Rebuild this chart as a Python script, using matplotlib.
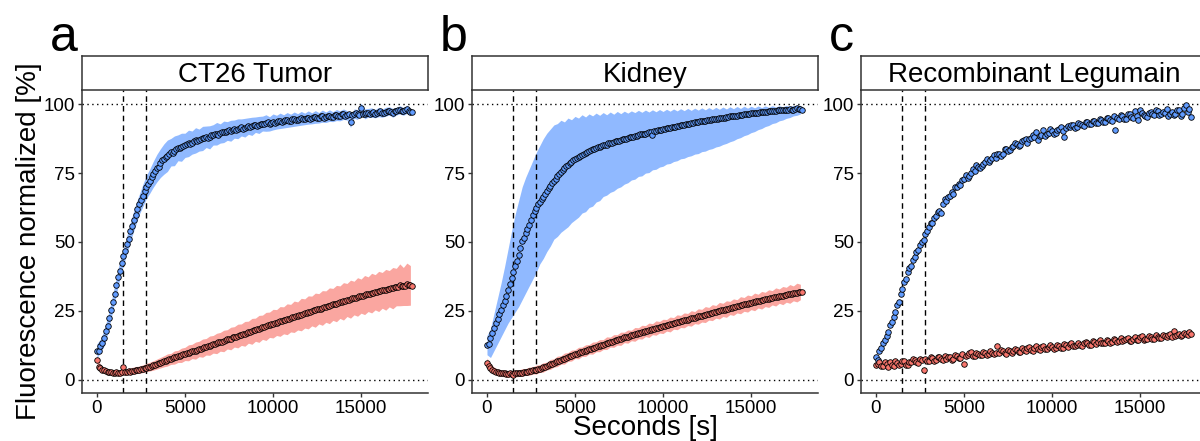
import numpy as np
import matplotlib
matplotlib.use("Agg")
import matplotlib.pyplot as plt

plt.rcParams['font.family'] = ['Liberation Sans', 'DejaVu Sans']

#---------------------------------- data ----------------------------------
# reading times [s]: points every 100 s, ribbons every 200 s
seconds = np.arange(0, 17901, 100)
ribbon_seconds = np.arange(0, 17801, 200)

titles = ["CT26 Tumor", "Kidney", "Recombinant Legumain"]
letters = ["a", "b", "c"]
vlines = [1500, 2800]

tumor_blue = [10.5, 10.2, 12.2, 13.4, 15.0, 17.6, 19.6, 22.5, 25.1, 28.3,
              31.0, 34.4, 37.2, 39.5, 42.3, 44.8, 46.8, 49.3, 51.2, 53.9,
              55.8, 58.1, 59.9, 62.0, 63.6, 65.4, 66.8, 68.6, 69.9, 71.2,
              72.1, 73.6, 74.6, 75.9, 76.8, 77.4, 78.6, 79.6, 80.1, 80.9,
              81.3, 82.1, 82.6, 82.4, 83.1, 83.8, 84.2, 84.0, 84.4, 85.0,
              85.1, 85.6, 85.8, 85.7, 86.1, 86.6, 86.9, 86.5, 87.0, 87.4,
              87.6, 87.9, 88.2, 87.8, 88.0, 88.7, 88.9, 89.1, 89.3, 89.0,
              89.4, 89.9, 90.0, 89.8, 90.3, 90.6, 90.4, 90.8, 91.0, 90.7,
              91.1, 91.4, 91.6, 91.2, 91.5, 91.9, 92.1, 91.8, 92.0, 92.4,
              92.6, 92.3, 92.5, 92.9, 93.0, 92.7, 93.2, 93.4, 92.9, 93.3,
              93.6, 93.2, 93.5, 93.9, 94.0, 93.6, 93.8, 94.2, 94.3, 93.9,
              94.1, 94.5, 94.6, 94.2, 94.4, 94.8, 94.9, 94.5, 94.7, 95.1,
              95.2, 94.8, 94.9, 95.3, 95.4, 95.0, 95.1, 95.6, 95.7, 95.2,
              95.3, 95.8, 95.9, 95.4, 95.5, 96.0, 96.1, 95.6, 95.8, 96.3,
              96.4, 95.9, 96.0, 96.5, 93.5, 96.2, 96.6, 96.8, 96.3, 96.1,
              98.8, 96.4, 96.5, 97.0, 96.9, 96.4, 97.0, 97.3, 96.6, 96.9,
              97.2, 97.5, 96.8, 97.0, 97.3, 97.7, 97.6, 97.1, 96.9, 97.4,
              97.5, 97.9, 98.0, 97.6, 97.4, 98.1, 98.2, 97.7, 97.3, 97.2]
tumor_blue_sd = [2.5, 2.5, 2.8, 3.0, 3.0, 3.0, 3.2, 3.0, 3.2, 3.4,
                 3.5, 3.8, 3.6, 4.0, 4.2, 4.4, 4.7, 5.0, 5.2, 5.5,
                 5.7, 5.0, 5.4, 4.7, 5.1, 4.4, 4.8, 4.2, 4.6, 4.0,
                 4.4, 3.9, 4.2, 3.7, 4.1, 3.5, 3.9, 3.4, 3.8, 3.3,
                 3.6, 3.1, 3.4, 3.0, 3.3, 2.8, 3.1, 2.7, 3.0, 2.6,
                 2.9, 2.5, 2.8, 2.4, 2.7, 2.3, 2.6, 2.2, 2.5, 2.1,
                 2.4, 2.0, 2.3, 1.9, 2.2, 1.9, 2.1, 1.8, 2.0, 1.8,
                 1.9, 1.7, 1.9, 1.7, 1.8, 1.6, 1.8, 1.6, 1.7, 1.5,
                 1.7, 1.5, 1.6, 1.5, 1.6, 1.4, 1.5, 1.4, 1.5, 1.4]
tumor_red = [7.0, 4.5, 4.1, 3.6, 3.3, 3.0, 2.8, 2.9, 2.6, 2.4,
             2.5, 2.7, 2.4, 2.3, 2.6, 4.4, 2.7, 2.6, 3.0, 2.9,
             3.2, 3.1, 3.4, 3.6, 3.6, 3.8, 3.9, 4.1, 4.3, 4.5,
             4.7, 4.9, 5.1, 5.3, 5.6, 5.9, 6.1, 6.4, 6.6, 6.9,
             7.1, 7.3, 7.5, 7.8, 8.0, 8.2, 8.4, 8.7, 8.8, 9.1,
             9.3, 9.6, 9.7, 10.0, 10.2, 10.3, 10.5, 10.9, 11.1, 11.2,
             11.4, 11.7, 11.9, 12.0, 12.3, 12.6, 12.8, 12.9, 13.1, 13.5,
             13.7, 13.8, 14.0, 14.4, 14.6, 14.7, 14.9, 15.3, 15.5, 15.6,
             15.8, 16.1, 16.3, 16.4, 16.6, 17.0, 17.2, 17.3, 17.5, 17.9,
             18.1, 18.2, 18.4, 18.8, 19.0, 19.1, 19.3, 19.7, 19.9, 20.0,
             20.3, 20.5, 20.7, 20.9, 21.1, 21.3, 21.5, 21.7, 21.9, 22.1,
             22.3, 22.6, 22.8, 22.9, 23.1, 23.4, 23.6, 23.7, 24.0, 24.3,
             24.4, 24.6, 24.9, 25.1, 25.2, 25.5, 25.7, 25.8, 26.0, 26.3,
             26.5, 26.6, 26.8, 27.1, 27.3, 27.4, 27.6, 27.9, 28.1, 28.2,
             28.4, 28.7, 28.9, 29.0, 29.2, 29.5, 29.6, 29.8, 30.0, 30.2,
             30.3, 30.5, 30.7, 30.9, 31.0, 31.2, 31.4, 31.6, 31.7, 31.9,
             32.0, 32.3, 32.4, 32.5, 32.6, 32.9, 33.0, 33.1, 33.2, 33.5,
             33.6, 33.7, 34.4, 34.0, 33.8, 34.1, 34.6, 34.5, 34.2, 34.0]
tumor_red_sd = [1.5, 1.2, 1.0, 1.0, 1.0, 1.0, 1.1, 1.0, 1.1, 1.2,
                1.2, 1.3, 1.3, 1.4, 1.5, 1.6, 1.7, 1.8, 1.9, 2.0,
                2.2, 2.0, 2.4, 2.2, 2.6, 2.4, 2.9, 2.6, 3.1, 2.8,
                3.3, 3.0, 3.5, 3.2, 3.7, 3.4, 3.9, 3.5, 4.1, 3.7,
                4.3, 3.9, 4.5, 4.0, 4.7, 4.2, 4.9, 4.4, 5.1, 4.6,
                5.2, 4.7, 5.4, 4.9, 5.6, 5.0, 5.7, 5.1, 5.9, 5.3,
                6.0, 5.4, 6.2, 5.5, 6.3, 5.7, 6.5, 5.8, 6.6, 5.9,
                6.8, 6.0, 6.9, 6.1, 7.0, 6.2, 7.1, 6.3, 7.2, 6.4,
                7.3, 6.5, 7.4, 6.6, 7.5, 6.8, 7.6, 6.9, 7.7, 7.2]

kidney_blue = [12.5, 13.0, 15.2, 16.9, 18.8, 20.5, 22.0, 23.8, 25.4, 27.0,
               28.7, 30.5, 32.6, 34.8, 36.8, 39.1, 41.2, 43.0, 45.3, 47.9,
               50.2, 51.5, 53.4, 54.6, 56.1, 58.0, 59.6, 61.1, 62.4, 63.6,
               64.6, 65.5, 66.3, 67.5, 68.6, 69.6, 70.4, 71.4, 72.2, 73.0,
               73.8, 74.7, 75.4, 76.3, 76.9, 77.5, 78.0, 78.6, 79.1, 79.6,
               80.0, 80.5, 80.9, 81.1, 81.4, 82.0, 82.4, 82.5, 82.9, 83.4,
               83.6, 83.8, 84.1, 84.4, 84.5, 84.9, 85.1, 85.2, 85.3, 85.8,
               86.0, 86.0, 86.2, 86.6, 86.8, 86.8, 87.0, 87.3, 87.4, 87.5,
               87.8, 88.0, 88.1, 88.3, 88.4, 88.5, 88.7, 89.1, 89.2, 89.2,
               89.3, 89.6, 89.8, 89.9, 88.9, 90.2, 90.3, 90.6, 90.7, 90.8,
               91.0, 91.2, 91.3, 91.3, 91.5, 91.8, 91.9, 91.9, 92.0, 92.3,
               92.4, 92.4, 92.6, 92.8, 92.9, 93.0, 93.1, 93.3, 93.4, 93.4,
               93.5, 93.8, 93.9, 93.9, 94.0, 94.2, 94.3, 94.4, 94.5, 94.6,
               94.7, 94.7, 94.9, 95.1, 95.2, 95.2, 95.3, 95.5, 95.6, 95.7,
               95.8, 95.8, 95.9, 96.1, 96.2, 96.2, 96.3, 96.4, 96.5, 96.6,
               96.7, 96.8, 96.9, 96.9, 97.0, 97.1, 97.2, 97.3, 97.3, 97.3,
               97.4, 97.5, 97.6, 97.6, 97.7, 97.8, 97.8, 97.8, 97.9, 98.0,
               98.0, 98.1, 98.3, 98.1, 98.1, 98.4, 98.5, 98.2, 98.2, 97.9]
kidney_blue_lo = [9.0, 8.0, 10.5, 13.0, 15.5, 18.0, 20.5, 22.5, 24.5, 26.5,
                  29.0, 31.5, 34.0, 36.5, 39.0, 42.0, 44.0, 46.5, 48.5, 51.0,
                  52.0, 53.5, 54.5, 55.5, 57.0, 58.0, 59.0, 60.5, 61.0, 62.5,
                  63.0, 64.5, 65.0, 66.5, 67.0, 68.0, 68.5, 69.5, 70.0, 71.0,
                  71.5, 72.5, 72.8, 73.8, 74.0, 75.0, 75.2, 76.2, 76.4, 77.2,
                  77.5, 78.3, 78.5, 79.2, 79.5, 80.2, 80.4, 81.0, 81.3, 81.9,
                  82.1, 82.8, 83.0, 83.6, 83.9, 84.5, 84.8, 85.4, 85.8, 86.4,
                  86.8, 87.5, 87.9, 88.6, 89.0, 89.7, 90.1, 90.8, 91.2, 91.9,
                  92.3, 93.0, 93.3, 94.0, 94.3, 94.9, 95.2, 95.8, 96.0, 96.5]
kidney_blue_hi = [16.0, 18.5, 24.0, 29.5, 35.0, 41.0, 47.5, 54.0, 60.0, 65.0,
                  70.0, 73.5, 76.5, 79.5, 82.5, 85.0, 87.5, 89.5, 91.0, 92.5,
                  93.0, 94.2, 93.6, 95.0, 94.4, 95.6, 95.0, 96.2, 95.4, 96.5,
                  95.8, 96.8, 96.0, 97.0, 96.2, 97.2, 96.4, 97.4, 96.6, 97.5,
                  96.8, 97.6, 97.0, 97.8, 97.1, 97.9, 97.2, 98.0, 97.3, 98.1,
                  97.4, 98.2, 97.5, 98.3, 97.6, 98.4, 97.7, 98.5, 97.8, 98.6,
                  97.9, 98.7, 98.0, 98.8, 98.1, 98.9, 98.2, 99.0, 98.3, 99.1,
                  98.4, 99.2, 98.5, 99.3, 98.6, 99.3, 98.7, 99.4, 98.8, 99.4,
                  98.9, 99.5, 99.0, 99.5, 99.1, 99.6, 99.2, 99.6, 99.3, 99.7]
kidney_red = [6.0, 4.8, 4.2, 3.6, 3.2, 2.9, 2.6, 2.4, 2.3, 2.5,
              2.2, 2.0, 2.0, 2.2, 2.1, 1.8, 2.2, 2.4, 2.3, 2.3,
              2.5, 2.7, 2.8, 2.8, 3.0, 3.2, 3.3, 3.4, 3.6, 3.8,
              4.0, 4.2, 4.4, 4.7, 4.9, 5.2, 5.5, 5.7, 6.0, 6.3,
              6.6, 6.8, 7.1, 7.4, 7.6, 7.9, 8.2, 8.4, 8.7, 8.9,
              9.2, 9.4, 9.6, 9.9, 10.1, 10.3, 10.5, 10.8, 11.0, 11.2,
              11.4, 11.6, 11.9, 12.1, 12.3, 12.5, 12.7, 13.0, 13.2, 13.4,
              13.6, 13.8, 14.0, 14.2, 14.4, 14.6, 14.8, 15.1, 15.3, 15.4,
              15.6, 15.8, 16.0, 16.2, 16.4, 16.6, 16.8, 17.0, 17.2, 17.4,
              17.6, 17.7, 17.9, 18.1, 18.3, 18.5, 18.7, 18.8, 19.0, 19.2,
              19.3, 19.5, 19.7, 19.9, 20.0, 20.2, 20.4, 20.6, 20.8, 20.9,
              21.1, 21.3, 21.5, 21.6, 21.8, 22.0, 22.2, 22.3, 22.5, 22.7,
              22.9, 23.0, 23.2, 23.4, 23.6, 23.7, 23.9, 24.1, 24.3, 24.4,
              24.6, 24.8, 25.0, 25.1, 25.3, 25.4, 25.6, 25.8, 26.0, 26.1,
              26.3, 26.4, 26.6, 26.8, 27.0, 27.1, 27.3, 27.4, 27.6, 27.7,
              27.9, 28.1, 28.2, 28.4, 28.5, 28.6, 28.8, 29.0, 29.1, 29.2,
              29.4, 29.5, 29.7, 29.9, 30.0, 30.1, 30.3, 30.4, 30.5, 30.7,
              30.8, 30.9, 31.1, 31.2, 31.3, 31.5, 31.6, 31.7, 31.8, 31.7]
kidney_red_sd = [1.8, 1.5, 1.3, 1.2, 1.2, 1.2, 1.3, 1.2, 1.3, 1.2,
                 1.4, 1.2, 1.5, 1.3, 1.6, 1.4, 1.7, 1.4, 1.8, 1.5,
                 1.9, 1.5, 2.0, 1.6, 2.0, 1.6, 2.1, 1.7, 2.1, 1.7,
                 2.2, 1.8, 2.2, 1.8, 2.3, 1.8, 2.3, 1.9, 2.4, 1.9,
                 2.4, 1.9, 2.5, 2.0, 2.5, 2.0, 2.6, 2.0, 2.6, 2.1,
                 2.6, 2.1, 2.7, 2.1, 2.7, 2.2, 2.7, 2.2, 2.8, 2.2,
                 2.8, 2.3, 2.9, 2.3, 2.9, 2.3, 3.0, 2.4, 3.0, 2.4,
                 3.0, 2.4, 3.1, 2.5, 3.1, 2.5, 3.2, 2.5, 3.2, 2.6,
                 3.2, 2.6, 3.3, 2.6, 3.3, 2.7, 3.4, 2.7, 3.4, 2.8]

recomb_blue = [8.1, 7.2, 10.4, 11.6, 13.3, 14.5, 15.8, 17.2, 19.9, 21.0,
               22.6, 24.4, 27.1, 28.3, 31.2, 33.0, 35.4, 36.6, 38.9, 40.5,
               41.3, 43.5, 44.6, 46.2, 47.2, 48.9, 50.1, 50.7, 52.8, 53.9,
               55.4, 56.9, 56.7, 58.6, 59.3, 60.8, 61.2, 60.4, 63.8, 65.7,
               64.9, 66.3, 66.8, 68.2, 67.5, 69.9, 69.8, 71.0, 70.6, 72.4,
               72.9, 74.3, 73.2, 74.0, 75.1, 76.5, 75.8, 77.9, 77.4, 76.8,
               77.6, 78.4, 78.9, 80.2, 79.1, 79.8, 80.6, 81.4, 80.5, 81.9,
               82.1, 81.3, 82.0, 83.8, 83.6, 82.9, 83.4, 84.5, 84.9, 86.1,
               85.7, 84.8, 85.2, 86.6, 86.9, 87.5, 86.1, 87.3, 87.6, 88.9,
               88.3, 89.8, 87.2, 88.6, 89.0, 90.5, 88.4, 89.2, 89.6, 91.0,
               90.2, 89.3, 89.5, 90.8, 91.1, 91.6, 90.3, 88.2, 91.4, 92.1,
               91.8, 92.6, 92.4, 91.5, 91.6, 93.2, 93.0, 92.5, 92.2, 93.6,
               93.5, 92.9, 92.8, 94.1, 93.9, 93.3, 93.1, 94.8, 94.4, 93.7,
               93.6, 95.2, 95.2, 94.2, 94.0, 95.6, 90.5, 94.9, 94.8, 96.0,
               95.6, 94.6, 94.7, 96.5, 96.3, 95.4, 95.1, 97.4, 95.9, 94.3,
               97.8, 96.7, 96.2, 95.6, 95.4, 97.0, 97.1, 96.4, 96.0, 97.8,
               97.5, 96.0, 96.3, 97.2, 96.9, 98.3, 95.8, 96.6, 97.2, 96.1,
               96.5, 97.9, 98.0, 95.9, 96.4, 98.6, 99.6, 97.3, 98.4, 95.4]
recomb_red = [5.1, 5.8, 6.2, 5.0, 4.8, 6.3, 5.6, 4.6, 6.4, 5.3,
              4.9, 6.6, 6.0, 5.2, 5.5, 6.8, 6.8, 5.4, 5.2, 6.5,
              6.5, 7.4, 7.2, 6.3, 6.1, 7.5, 7.0, 3.5, 7.4, 6.6,
              6.9, 8.1, 7.9, 6.9, 7.2, 8.0, 8.1, 7.3, 7.0, 8.6,
              7.4, 8.2, 8.3, 7.1, 7.6, 8.8, 8.5, 7.7, 7.9, 9.1,
              5.8, 8.4, 8.9, 9.5, 9.9, 8.6, 8.6, 9.8, 9.3, 8.8,
              9.0, 10.1, 9.6, 9.0, 9.2, 10.3, 9.8, 9.1, 9.5, 12.0,
              9.7, 10.6, 10.3, 9.5, 9.4, 10.9, 10.4, 9.8, 10.2, 11.2,
              10.9, 10.1, 10.0, 11.4, 10.6, 10.3, 11.3, 11.7, 10.8, 10.5,
              11.5, 12.0, 11.0, 10.7, 11.9, 12.2, 11.2, 11.1, 11.7, 12.4,
              11.7, 11.2, 11.4, 12.5, 12.2, 11.6, 11.6, 12.8, 12.4, 11.9,
              12.8, 13.2, 12.2, 12.0, 12.6, 13.3, 12.5, 12.3, 13.2, 13.7,
              13.2, 12.6, 12.7, 13.9, 13.5, 12.9, 13.8, 14.2, 13.2, 13.1,
              13.4, 14.4, 14.0, 13.4, 13.5, 14.7, 14.3, 13.6, 13.9, 15.0,
              13.9, 14.3, 14.6, 15.2, 14.1, 14.0, 14.9, 15.6, 14.4, 14.2,
              15.3, 15.8, 14.5, 14.6, 14.8, 15.9, 15.4, 14.9, 14.9, 16.1,
              15.6, 15.2, 15.1, 16.3, 15.8, 15.4, 16.0, 16.6, 15.3, 17.5,
              15.7, 16.2, 16.4, 15.9, 16.0, 16.8, 16.6, 16.2, 17.1, 16.6]

# ribbons: (blue low, blue high, red low, red high), None for panel c
tbs, trs, krs = np.array(tumor_blue_sd), np.array(tumor_red_sd), np.array(kidney_red_sd)
tb_r, tr_r = np.array(tumor_blue)[::2], np.array(tumor_red)[::2]
kr_r = np.array(kidney_red)[::2]
ribbons = [
    (tb_r - tbs, tb_r + tbs, tr_r - trs, tr_r + trs),
    (np.array(kidney_blue_lo), np.array(kidney_blue_hi), kr_r - krs, kr_r + krs),
    None,
]
points = [(tumor_blue, tumor_red), (kidney_blue, kidney_red), (recomb_blue, recomb_red)]

blue = "#619CFF"
red = "#F8766D"

#---------------------------------- figure ----------------------------------
W, H = 1200, 441
fig = plt.figure(figsize=(W / 100, H / 100), dpi=100)

lefts = [82, 472, 861]
ax_w = 346
ax_top, ax_bot = 90, 393
strip_top = 56

for k in range(3):
    l = lefts[k] / W
    ax = fig.add_axes([l, 1 - ax_bot / H, ax_w / W, (ax_bot - ax_top) / H])

    if ribbons[k] is not None:
        blo, bhi, rlo, rhi = ribbons[k]
        ax.fill_between(ribbon_seconds, blo, bhi, color=blue, alpha=0.7, lw=0, zorder=1)
        ax.fill_between(ribbon_seconds, rlo, rhi, color=red, alpha=0.65, lw=0, zorder=1)

    ax.axhline(0, color="black", ls=(0, (1, 2.5)), lw=1, zorder=0)
    ax.axhline(100, color="black", ls=(0, (1, 2.5)), lw=1, zorder=0)
    for v in vlines:
        ax.axvline(v, color="black", ls=(0, (4, 3)), lw=1, zorder=2)

    bvals, rvals = points[k]
    ax.scatter(seconds, bvals, s=16, c=blue, edgecolors="black", linewidths=0.6, zorder=3)
    ax.scatter(seconds, rvals, s=16, c=red, edgecolors="black", linewidths=0.6, zorder=3)

    ax.set_xlim(-850, 18800)
    ax.set_ylim(-4.9, 105.2)
    ax.set_xticks([0, 5000, 10000, 15000])
    ax.set_yticks([0, 25, 50, 75, 100])
    ax.spines["top"].set_visible(False)
    ax.spines["right"].set_visible(False)
    for s in ["left", "bottom"]:
        ax.spines[s].set_color("#333333")
        ax.spines[s].set_linewidth(1.1)
    ax.tick_params(labelsize=13.5, length=3, width=1, color="#333333", pad=2,
                   labelcolor="black")

    # facet strip
    sx = fig.add_axes([l, 1 - ax_top / H, ax_w / W, (ax_top - strip_top) / H])
    sx.set_xticks([])
    sx.set_yticks([])
    for s in sx.spines.values():
        s.set_color("#333333")
        s.set_linewidth(1.1)
    sx.text(0.5, 0.45, titles[k], ha="center", va="center", fontsize=20,
            transform=sx.transAxes)

    fig.text((lefts[k] - 32) / W, 1 - 51 / H, letters[k], fontsize=36,
             ha="left", va="baseline")

fig.text(0.024, 0.4524, "Fluorescence normalized [%]", rotation=90,
         ha="center", va="center", fontsize=20)
fig.text(0.5375, 1 - 428 / H, "Seconds [s]", ha="center", va="center", fontsize=20)

fig.savefig("out.png", dpi=100)
